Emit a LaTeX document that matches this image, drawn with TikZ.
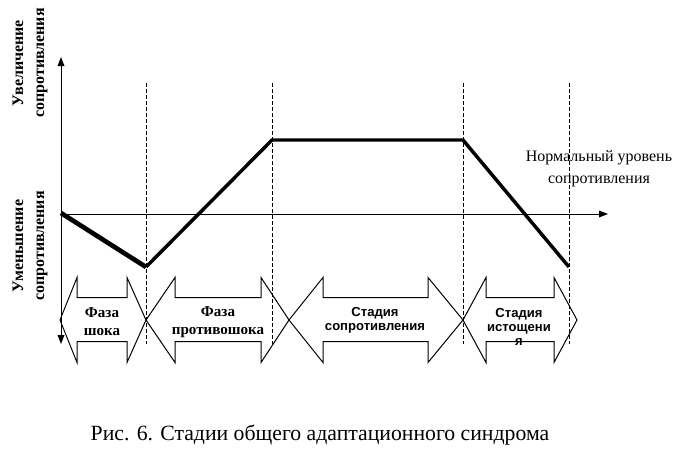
\documentclass[tikz,border=0pt]{standalone}
\usepackage{fontspec}
\setmainfont{Liberation Serif}
\newfontfamily\arialfont{Liberation Sans}
\tikzset{every picture/.style={line width=0.75pt}}
\tikzset{
  phase/.style={font=\fontsize{11.3}{13.5}\selectfont\bfseries, align=center, inner sep=0.75pt},
  stage/.style={font=\fontsize{9.8}{10.5}\selectfont\arialfont\bfseries, align=center, inner sep=0.75pt},
  axislabel/.style={font=\fontsize{12}{15.75}\selectfont\bfseries, align=center, inner sep=0.75pt, rotate=90},
  border/.style={dash pattern=on 3pt off 1.5pt, line width=0.6pt},
  curve/.style={line width=2.6pt, line join=miter}
}

\begin{document}
\begin{tikzpicture}[x=0.75pt,y=0.75pt,yscale=-1,xscale=1]
		\path[use as bounding box] (0,0) rectangle (685,464);
		
		%Axes
		\draw    (61,62) -- (61,338) ;
		\draw [shift={(61,57)}, rotate = 90] [fill=black][draw opacity=0] (9,-3.5) -- (0,0) -- (9,3.5) -- cycle    ;
		\draw [shift={(61,344)}, rotate = 270] [fill=black][draw opacity=0] (9,-3.5) -- (0,0) -- (9,3.5) -- cycle    ;
		\draw    (61,214) -- (600,214) ;
		\draw [shift={(608,214)}, rotate = 180] [fill=black][draw opacity=0] (9,-3.5) -- (0,0) -- (9,3.5) -- cycle    ;
		
		%Stage borders
		\foreach \x in {146,272,463,569}
		  \draw [border]   (\x,83) -- (\x,344) ;
		
		%Resistance curve
		\draw [line width=3.5pt]   (61,213) -- (146,267) ;
		\draw [curve]   (146,267) -- (272,140) -- (463,140) -- (569,267) ;
		
		%Shape: Double Arrow
		\draw   (60,320) -- (77,277.5) -- (77,297.5) -- (127,297.5) -- (127,277.5) -- (146,320) -- (127,362.5) -- (127,341.5) -- (77,341.5) -- (77,362.5) -- cycle ;
		%Shape: Double Arrow
		\draw   (146,320) -- (175,277.5) -- (175,297.5) -- (261,297.5) -- (261,277.5) -- (289,320) -- (261,362.5) -- (261,341.5) -- (175,341.5) -- (175,362.5) -- cycle ;
		%Shape: Double Arrow
		\draw   (289,320) -- (323,277.5) -- (323,297.5) -- (428,297.5) -- (428,277.5) -- (463,320) -- (428,362.5) -- (428,341.5) -- (323,341.5) -- (323,362.5) -- cycle ;
		%Shape: Double Arrow
		\draw   (463,320) -- (486,277.5) -- (486,297.5) -- (554,297.5) -- (554,277.5) -- (577,320) -- (554,362.5) -- (554,341.5) -- (486,341.5) -- (486,362.5) -- cycle ;
		
		\draw (30,63) node (up) [axislabel]   {Увеличение\\сопротивления};
		\draw (30,246) node (down) [axislabel]   {Уменьшение\\сопротивления};
		\draw (599,169) node (normal) [align=center, inner sep=0.75pt, font=\fontsize{12}{16.5}\selectfont]   {Нормальный уровень\\сопротивления};
		\draw (102,322) node (shock) [phase]   {Фаза\\шока};
		\draw (218,322) node (antishock) [phase]   {Фаза\\противошока};
		\draw (375,320) node (resist) [stage]   {Стадия\\сопротивления};
		\draw (519,327) node (exhaust) [stage]   {Стадия\\истощени\\я};
		\draw (320,440) node (caption) [anchor=base, inner sep=0.75pt, font=\fontsize{16.3}{18}\selectfont]   {Рис. 6. Стадии общего адаптационного синдрома};
		
	\end{tikzpicture}
\end{document}
